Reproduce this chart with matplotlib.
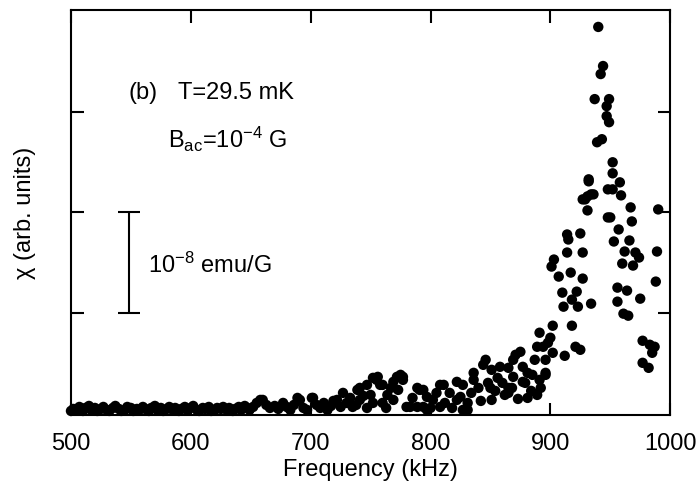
import numpy as np
import matplotlib.pyplot as plt

plt.rcParams['font.family'] = ['Liberation Sans', 'DejaVu Sans']
plt.rcParams['mathtext.fontset'] = 'custom'
plt.rcParams['mathtext.rm'] = 'Liberation Sans'
plt.rcParams['mathtext.it'] = 'Liberation Sans'

# flat baseline, 500-647 kHz
base_freq = [500, 502, 505, 507, 510, 512, 515, 517, 520, 522,
             525, 527, 530, 532, 535, 537, 540, 542, 545, 547,
             550, 552, 555, 557, 560, 562, 565, 567, 570, 572,
             575, 577, 580, 582, 585, 587, 590, 592, 595, 597,
             600, 602, 605, 607, 610, 612, 615, 617, 620, 622,
             625, 627, 630, 632, 635, 637, 640, 642, 645, 647]
base_chi = [0.02, 0.04, 0.03, 0.06, 0.02, 0.05, 0.07, 0.03, 0.05, 0.02,
            0.04, 0.06, 0.03, 0.02, 0.05, 0.07, 0.04, 0.02, 0.03, 0.06,
            0.05, 0.02, 0.04, 0.03, 0.06, 0.04, 0.02, 0.05, 0.07, 0.03,
            0.05, 0.02, 0.04, 0.06, 0.03, 0.05, 0.02, 0.04, 0.06, 0.03,
            0.05, 0.07, 0.03, 0.02, 0.05, 0.04, 0.06, 0.02, 0.03, 0.05,
            0.04, 0.06, 0.03, 0.05, 0.02, 0.04, 0.06, 0.03, 0.07, 0.05]

# slow rise, 649-899 kHz
rise_freq = [649, 652, 655, 658, 660, 663, 666, 670, 673, 677,
             680, 683, 686, 689, 691, 694, 697, 701, 702, 705,
             708, 711, 714, 717, 719, 722, 725, 727, 730, 733,
             735, 738, 739, 741, 741, 744, 747, 747, 750, 752,
             752, 755, 756, 758, 760, 760, 763, 764, 767, 769,
             769, 772, 773, 775, 777, 777, 780, 783, 785, 789,
             789, 791, 794, 794, 797, 797, 800, 802, 805, 808,
             808, 811, 812, 816, 818, 822, 822, 825, 827, 827,
             831, 831, 834, 836, 836, 840, 842, 844, 846, 848,
             850, 851, 851, 854, 856, 858, 860, 862, 865, 865,
             865, 868, 869, 869, 871, 873, 875, 877, 877, 879,
             881, 881, 884, 885, 887, 889, 889, 891, 891, 892,
             894, 896, 896, 896, 898]
rise_chi = [0.03, 0.06, 0.10, 0.13, 0.13, 0.08, 0.05, 0.07, 0.04, 0.10,
            0.06, 0.03, 0.08, 0.15, 0.13, 0.05, 0.03, 0.15, 0.15, 0.08,
            0.05, 0.10, 0.03, 0.07, 0.12, 0.13, 0.06, 0.20, 0.10, 0.15,
            0.06, 0.08, 0.23, 0.13, 0.25, 0.17, 0.28, 0.05, 0.18, 0.35,
            0.10, 0.33, 0.36, 0.28, 0.28, 0.10, 0.05, 0.18, 0.25, 0.31,
            0.13, 0.36, 0.23, 0.38, 0.36, 0.33, 0.06, 0.06, 0.15, 0.25,
            0.06, 0.23, 0.23, 0.06, 0.16, 0.03, 0.05, 0.13, 0.20, 0.28,
            0.06, 0.28, 0.10, 0.20, 0.05, 0.31, 0.13, 0.16, 0.28, 0.03,
            0.10, 0.03, 0.20, 0.40, 0.33, 0.25, 0.12, 0.48, 0.53, 0.30,
            0.25, 0.43, 0.13, 0.22, 0.35, 0.46, 0.30, 0.18, 0.45, 0.20,
            0.25, 0.25, 0.36, 0.53, 0.58, 0.14, 0.61, 0.31, 0.46, 0.30,
            0.40, 0.15, 0.22, 0.38, 0.53, 0.66, 0.18, 0.80, 0.33, 0.25,
            0.66, 0.38, 0.53, 0.40, 0.70]

# resonance, 900-990 kHz
peak_freq = [900, 901, 902, 902, 903, 907, 910, 911, 912, 914,
             914, 915, 917, 918, 918, 921, 922, 923, 925, 925,
             927, 927, 927, 929, 931, 931, 932, 932, 934, 934,
             936, 937, 939, 940, 942, 943, 944, 947, 947, 948,
             948, 949, 949, 950, 952, 952, 952, 953, 956, 956,
             957, 958, 959, 960, 961, 962, 964, 965, 966, 967,
             968, 969, 971, 974, 975, 977, 977, 982, 983, 985,
             987, 988, 989, 990]
peak_chi = [0.75, 1.46, 0.87, 0.60, 1.53, 1.36, 1.20, 1.06, 0.57, 1.78,
            1.60, 1.73, 1.40, 1.13, 0.87, 0.66, 1.21, 1.06, 1.79, 0.63,
            1.60, 1.34, 2.13, 2.13, 2.16, 2.02, 2.31, 2.33, 2.18, 1.09,
            2.18, 3.13, 2.70, 3.85, 3.38, 2.73, 3.46, 3.06, 2.96, 2.23,
            1.95, 3.13, 2.90, 1.95, 2.50, 2.39, 2.23, 1.71, 1.25, 1.11,
            1.83, 2.30, 2.17, 1.49, 0.99, 1.61, 1.22, 0.97, 1.72, 2.05,
            1.91, 1.47, 1.60, 1.55, 1.14, 0.72, 0.50, 0.45, 0.68, 0.60,
            0.66, 1.31, 1.61, 2.03]

freq = base_freq + rise_freq + peak_freq
chi = base_chi + rise_chi + peak_chi

fig = plt.figure(figsize=(7.0, 4.94), dpi=100)
ax = fig.add_axes([0.1014, 0.160, 0.856, 0.820])

ax.scatter(freq, chi, s=56, color='black', edgecolors='none', zorder=3, clip_on=False)

# scale bar: one y unit = 1e-8 emu/G
ax.errorbar([548], [1.5], yerr=[[0.5], [0.5]], fmt='none', ecolor='black',
            elinewidth=1.5, capsize=8, capthick=1.5)
ax.text(564, 1.47, r'10$^{-8}$ emu/G', fontsize=17, va='center', ha='left')

ax.text(548, 3.19, '(b)', fontsize=17, va='center', ha='left')
ax.text(589, 3.19, 'T=29.5 mK', fontsize=17, va='center', ha='left')
ax.text(581, 2.73, r'B$_{\rm ac}$=10$^{-4}$ G', fontsize=17, va='center', ha='left')

ax.set_xlim(500, 1000)
ax.set_ylim(-0.02, 4.02)
ax.set_xticks([500, 600, 700, 800, 900, 1000])
ax.set_yticks([1, 2, 3])
ax.set_yticklabels([])
ax.tick_params(direction='in', length=9, width=1.5, top=True, right=True,
               labelsize=17)
ax.tick_params(axis='x', pad=13)
for sp in ax.spines.values():
    sp.set_linewidth(1.5)

ax.set_xlabel('Frequency (kHz)', fontsize=17, labelpad=3)
ax.set_ylabel('χ (arb. units)', fontsize=17, labelpad=22)

fig.savefig('out.png', dpi=100)
